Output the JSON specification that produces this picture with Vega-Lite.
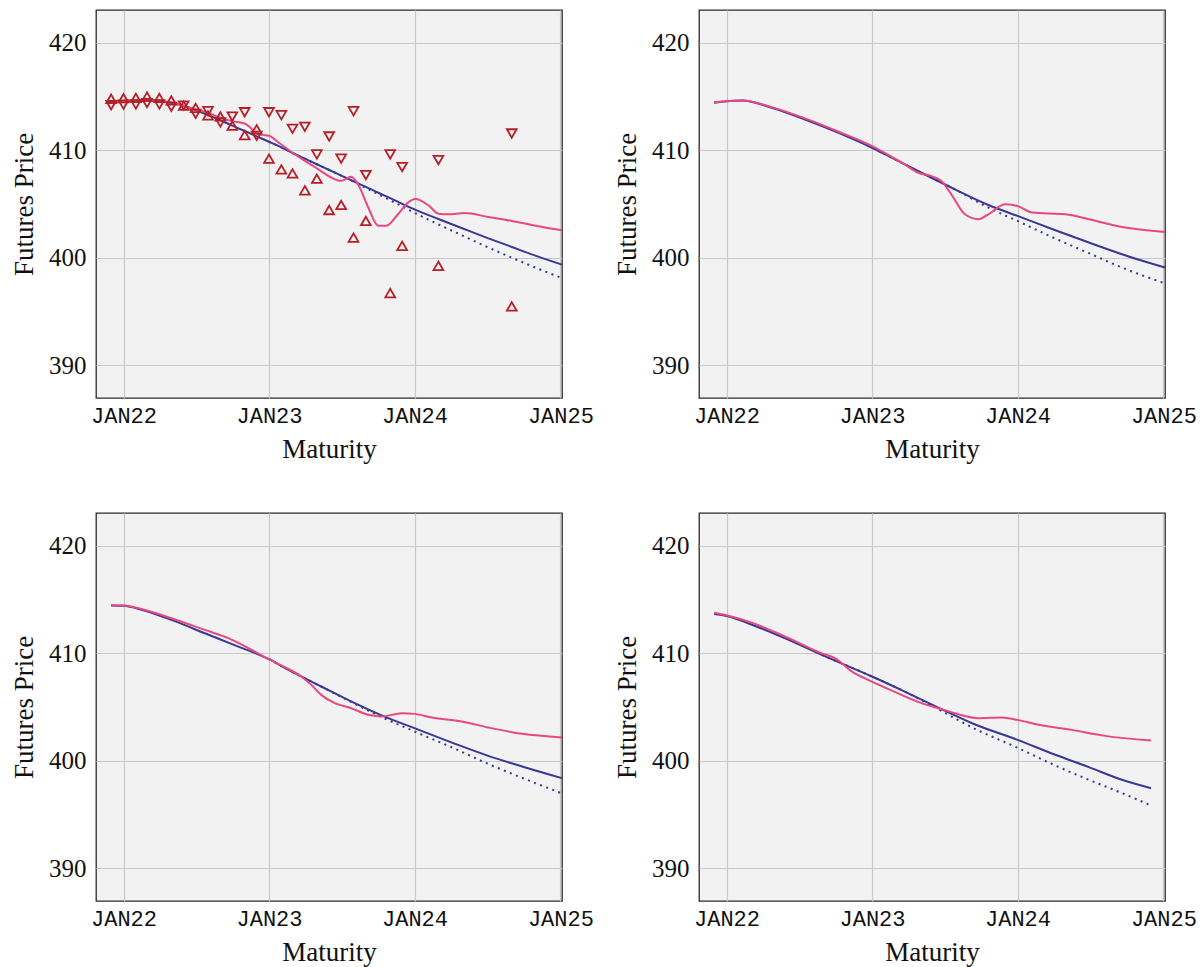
{
  "$schema": "https://vega.github.io/schema/vega-lite/v6.json",
  "padding": {"left": 9, "top": 9, "right": 3, "bottom": 3},
  "background": "white",
  "datasets": {"t": [
    {"p":1,"s":"n","d":"2021-12-01","v":414.5},{"p":1,"s":"n","d":"2022-01-01","v":414.57},{"p":1,"s":"n","d":"2022-02-01","v":414.62},{"p":1,"s":"n","d":"2022-03-01","v":414.64},{"p":1,"s":"n","d":"2022-04-01","v":414.58},{"p":1,"s":"n","d":"2022-05-01","v":414.42},{"p":1,"s":"n","d":"2022-06-01","v":414.15},{"p":1,"s":"n","d":"2022-07-01","v":413.75},{"p":1,"s":"n","d":"2022-08-01","v":413.28},{"p":1,"s":"n","d":"2022-09-01","v":412.8},{"p":1,"s":"n","d":"2022-10-01","v":412.3},{"p":1,"s":"n","d":"2022-11-01","v":411.8},{"p":1,"s":"n","d":"2022-12-01","v":411.3},{"p":1,"s":"n","d":"2023-01-01","v":410.8},{"p":1,"s":"n","d":"2023-02-01","v":410.28},{"p":1,"s":"n","d":"2023-03-01","v":409.75},{"p":1,"s":"n","d":"2023-04-01","v":409.22},{"p":1,"s":"n","d":"2023-05-01","v":408.7},{"p":1,"s":"n","d":"2023-06-01","v":408.17},{"p":1,"s":"n","d":"2023-07-01","v":407.65},{"p":1,"s":"n","d":"2023-08-01","v":407.12},{"p":1,"s":"n","d":"2023-09-01","v":406.6},{"p":1,"s":"n","d":"2023-10-01","v":406.07},{"p":1,"s":"n","d":"2023-11-01","v":405.55},{"p":1,"s":"n","d":"2023-12-01","v":405.02},{"p":1,"s":"n","d":"2024-01-01","v":404.5},{"p":1,"s":"n","d":"2024-03-01","v":403.6},{"p":1,"s":"n","d":"2024-05-01","v":402.72},{"p":1,"s":"n","d":"2024-07-01","v":401.85},{"p":1,"s":"n","d":"2024-09-01","v":401.0},{"p":1,"s":"n","d":"2024-11-01","v":400.17},{"p":1,"s":"n","d":"2025-01-05","v":399.35},
    {"p":1,"s":"o","d":"2023-01-01","v":410.8},{"p":1,"s":"o","d":"2023-02-01","v":410.28},{"p":1,"s":"o","d":"2023-03-01","v":409.75},{"p":1,"s":"o","d":"2023-04-01","v":409.22},{"p":1,"s":"o","d":"2023-05-01","v":408.7},{"p":1,"s":"o","d":"2023-06-01","v":408.17},{"p":1,"s":"o","d":"2023-07-01","v":407.65},{"p":1,"s":"o","d":"2023-08-01","v":407.08},{"p":1,"s":"o","d":"2023-09-01","v":406.5},{"p":1,"s":"o","d":"2023-10-01","v":405.93},{"p":1,"s":"o","d":"2023-11-01","v":405.35},{"p":1,"s":"o","d":"2023-12-01","v":404.78},{"p":1,"s":"o","d":"2024-01-01","v":404.18},{"p":1,"s":"o","d":"2024-03-01","v":403.1},{"p":1,"s":"o","d":"2024-05-01","v":402.05},{"p":1,"s":"o","d":"2024-07-01","v":401.0},{"p":1,"s":"o","d":"2024-09-01","v":400.0},{"p":1,"s":"o","d":"2024-11-01","v":399.05},{"p":1,"s":"o","d":"2025-01-05","v":398.1},
    {"p":1,"s":"k","d":"2021-12-01","v":414.55},{"p":1,"s":"k","d":"2022-01-01","v":414.6},{"p":1,"s":"k","d":"2022-03-01","v":414.68},{"p":1,"s":"k","d":"2022-05-01","v":414.48},{"p":1,"s":"k","d":"2022-07-01","v":413.8},{"p":1,"s":"k","d":"2022-08-01","v":413.5},{"p":1,"s":"k","d":"2022-09-01","v":413.03},{"p":1,"s":"k","d":"2022-10-01","v":412.72},{"p":1,"s":"k","d":"2022-11-01","v":412.5},{"p":1,"s":"k","d":"2022-11-15","v":412.12},{"p":1,"s":"k","d":"2022-12-01","v":411.56},{"p":1,"s":"k","d":"2022-12-14","v":411.44},{"p":1,"s":"k","d":"2023-01-01","v":411.35},{"p":1,"s":"k","d":"2023-01-25","v":410.73},{"p":1,"s":"k","d":"2023-02-28","v":409.8},{"p":1,"s":"k","d":"2023-04-01","v":409.02},{"p":1,"s":"k","d":"2023-05-04","v":408.25},{"p":1,"s":"k","d":"2023-06-06","v":407.47},{"p":1,"s":"k","d":"2023-07-01","v":407.16},{"p":1,"s":"k","d":"2023-07-26","v":407.53},{"p":1,"s":"k","d":"2023-08-12","v":406.86},{"p":1,"s":"k","d":"2023-09-07","v":404.68},{"p":1,"s":"k","d":"2023-10-02","v":402.98},{"p":1,"s":"k","d":"2023-10-22","v":402.98},{"p":1,"s":"k","d":"2023-11-21","v":404.07},{"p":1,"s":"k","d":"2023-12-16","v":405.14},{"p":1,"s":"k","d":"2024-01-03","v":405.46},{"p":1,"s":"k","d":"2024-02-06","v":404.84},{"p":1,"s":"k","d":"2024-03-01","v":404.1},{"p":1,"s":"k","d":"2024-03-25","v":404.04},{"p":1,"s":"k","d":"2024-05-06","v":404.16},{"p":1,"s":"k","d":"2024-07-04","v":403.79},{"p":1,"s":"k","d":"2024-09-01","v":403.42},{"p":1,"s":"k","d":"2024-11-03","v":402.96},{"p":1,"s":"k","d":"2025-01-05","v":402.55},
    {"p":1,"s":"a","d":"2021-12-01","v":414.2},{"p":1,"s":"b","d":"2021-12-01","v":414.8},
    {"p":1,"s":"a","d":"2022-01-01","v":414.25},{"p":1,"s":"b","d":"2022-01-01","v":414.85},
    {"p":1,"s":"a","d":"2022-02-01","v":414.28},{"p":1,"s":"b","d":"2022-02-01","v":414.88},
    {"p":1,"s":"a","d":"2022-03-01","v":414.4},{"p":1,"s":"b","d":"2022-03-01","v":415.0},
    {"p":1,"s":"a","d":"2022-04-01","v":414.28},{"p":1,"s":"b","d":"2022-04-01","v":414.88},
    {"p":1,"s":"a","d":"2022-05-01","v":414.05},{"p":1,"s":"b","d":"2022-05-01","v":414.65},
    {"p":1,"s":"a","d":"2022-06-01","v":414.17},{"p":1,"s":"b","d":"2022-06-01","v":414.17},
    {"p":1,"s":"a","d":"2022-07-01","v":413.4},{"p":1,"s":"b","d":"2022-07-01","v":413.95},
    {"p":1,"s":"a","d":"2022-08-01","v":413.65},{"p":1,"s":"b","d":"2022-08-01","v":413.25},
    {"p":1,"s":"a","d":"2022-09-01","v":412.6},{"p":1,"s":"b","d":"2022-09-01","v":413.15},
    {"p":1,"s":"a","d":"2022-10-01","v":413.15},{"p":1,"s":"b","d":"2022-10-01","v":412.3},
    {"p":1,"s":"a","d":"2022-11-01","v":413.55},{"p":1,"s":"b","d":"2022-11-01","v":411.42},
    {"p":1,"s":"a","d":"2022-12-01","v":411.35},{"p":1,"s":"b","d":"2022-12-01","v":411.95},
    {"p":1,"s":"a","d":"2023-01-01","v":413.55},{"p":1,"s":"b","d":"2023-01-01","v":409.22},
    {"p":1,"s":"a","d":"2023-02-01","v":413.28},{"p":1,"s":"b","d":"2023-02-01","v":408.22},
    {"p":1,"s":"a","d":"2023-03-01","v":412.0},{"p":1,"s":"b","d":"2023-03-01","v":407.85},
    {"p":1,"s":"a","d":"2023-04-01","v":412.19},{"p":1,"s":"b","d":"2023-04-01","v":406.27},
    {"p":1,"s":"a","d":"2023-05-01","v":409.62},{"p":1,"s":"b","d":"2023-05-01","v":407.36},
    {"p":1,"s":"a","d":"2023-06-01","v":411.29},{"p":1,"s":"b","d":"2023-06-01","v":404.44},
    {"p":1,"s":"a","d":"2023-07-01","v":409.22},{"p":1,"s":"b","d":"2023-07-01","v":404.91},
    {"p":1,"s":"a","d":"2023-08-01","v":413.65},{"p":1,"s":"b","d":"2023-08-01","v":401.87},
    {"p":1,"s":"a","d":"2023-09-01","v":407.7},{"p":1,"s":"b","d":"2023-09-01","v":403.42},
    {"p":1,"s":"a","d":"2023-11-01","v":409.62},{"p":1,"s":"b","d":"2023-11-01","v":396.7},
    {"p":1,"s":"a","d":"2023-12-01","v":408.44},{"p":1,"s":"b","d":"2023-12-01","v":401.1},
    {"p":1,"s":"a","d":"2024-03-01","v":409.09},{"p":1,"s":"b","d":"2024-03-01","v":399.24},
    {"p":1,"s":"a","d":"2024-09-01","v":411.57},{"p":1,"s":"b","d":"2024-09-01","v":395.46},
    {"p":2,"s":"n","d":"2021-12-01","v":414.42},{"p":2,"s":"n","d":"2022-01-01","v":414.58},{"p":2,"s":"n","d":"2022-02-10","v":414.64},{"p":2,"s":"n","d":"2022-04-24","v":413.96},{"p":2,"s":"n","d":"2022-07-17","v":412.87},{"p":2,"s":"n","d":"2022-10-09","v":411.63},{"p":2,"s":"n","d":"2023-01-01","v":410.24},{"p":2,"s":"n","d":"2023-02-12","v":409.46},{"p":2,"s":"n","d":"2023-05-05","v":407.91},{"p":2,"s":"n","d":"2023-07-28","v":406.37},{"p":2,"s":"n","d":"2023-10-20","v":404.91},{"p":2,"s":"n","d":"2024-01-01","v":403.89},{"p":2,"s":"n","d":"2024-04-05","v":402.55},{"p":2,"s":"n","d":"2024-06-28","v":401.41},{"p":2,"s":"n","d":"2024-09-19","v":400.32},{"p":2,"s":"n","d":"2025-01-05","v":399.08},
    {"p":2,"s":"o","d":"2023-01-01","v":410.24},{"p":2,"s":"o","d":"2023-02-12","v":409.46},{"p":2,"s":"o","d":"2023-05-05","v":407.91},{"p":2,"s":"o","d":"2023-07-28","v":406.37},{"p":2,"s":"o","d":"2023-10-20","v":404.66},{"p":2,"s":"o","d":"2024-01-01","v":403.42},{"p":2,"s":"o","d":"2024-04-05","v":401.78},{"p":2,"s":"o","d":"2024-06-28","v":400.42},{"p":2,"s":"o","d":"2024-09-19","v":399.08},{"p":2,"s":"o","d":"2025-01-05","v":397.6},
    {"p":2,"s":"k","d":"2021-12-01","v":414.48},{"p":2,"s":"k","d":"2022-01-01","v":414.58},{"p":2,"s":"k","d":"2022-02-10","v":414.64},{"p":2,"s":"k","d":"2022-04-24","v":414.02},{"p":2,"s":"k","d":"2022-07-17","v":412.97},{"p":2,"s":"k","d":"2022-10-09","v":411.73},{"p":2,"s":"k","d":"2023-01-01","v":410.4},{"p":2,"s":"k","d":"2023-02-12","v":409.56},{"p":2,"s":"k","d":"2023-03-24","v":408.69},{"p":2,"s":"k","d":"2023-04-27","v":407.91},{"p":2,"s":"k","d":"2023-05-30","v":407.6},{"p":2,"s":"k","d":"2023-06-24","v":407.14},{"p":2,"s":"k","d":"2023-07-19","v":405.9},{"p":2,"s":"k","d":"2023-08-22","v":404.04},{"p":2,"s":"k","d":"2023-09-25","v":403.58},{"p":2,"s":"k","d":"2023-10-20","v":404.04},{"p":2,"s":"k","d":"2023-12-01","v":404.97},{"p":2,"s":"k","d":"2024-01-01","v":404.82},{"p":2,"s":"k","d":"2024-02-07","v":404.2},{"p":2,"s":"k","d":"2024-04-30","v":404.04},{"p":2,"s":"k","d":"2024-06-28","v":403.58},{"p":2,"s":"k","d":"2024-09-19","v":402.86},{"p":2,"s":"k","d":"2025-01-05","v":402.4},
    {"p":3,"s":"n","d":"2021-12-01","v":414.45},{"p":3,"s":"n","d":"2022-01-01","v":414.42},{"p":3,"s":"n","d":"2022-02-17","v":414.04},{"p":3,"s":"n","d":"2022-05-01","v":413.11},{"p":3,"s":"n","d":"2022-07-24","v":411.87},{"p":3,"s":"n","d":"2022-10-16","v":410.63},{"p":3,"s":"n","d":"2023-01-01","v":409.45},{"p":3,"s":"n","d":"2023-02-19","v":408.46},{"p":3,"s":"n","d":"2023-05-12","v":406.91},{"p":3,"s":"n","d":"2023-08-04","v":405.36},{"p":3,"s":"n","d":"2023-10-27","v":403.96},{"p":3,"s":"n","d":"2024-01-01","v":403.03},{"p":3,"s":"n","d":"2024-04-12","v":401.57},{"p":3,"s":"n","d":"2024-07-04","v":400.45},{"p":3,"s":"n","d":"2024-09-27","v":399.46},{"p":3,"s":"n","d":"2025-01-05","v":398.37},
    {"p":3,"s":"o","d":"2023-01-01","v":409.45},{"p":3,"s":"o","d":"2023-02-19","v":408.46},{"p":3,"s":"o","d":"2023-05-12","v":406.91},{"p":3,"s":"o","d":"2023-08-04","v":405.3},{"p":3,"s":"o","d":"2023-10-27","v":403.78},{"p":3,"s":"o","d":"2024-01-01","v":402.72},{"p":3,"s":"o","d":"2024-04-12","v":401.1},{"p":3,"s":"o","d":"2024-07-04","v":399.7},{"p":3,"s":"o","d":"2024-09-27","v":398.4},{"p":3,"s":"o","d":"2025-01-05","v":396.95},
    {"p":3,"s":"k","d":"2021-12-01","v":414.48},{"p":3,"s":"k","d":"2022-01-01","v":414.45},{"p":3,"s":"k","d":"2022-02-17","v":414.1},{"p":3,"s":"k","d":"2022-05-01","v":413.27},{"p":3,"s":"k","d":"2022-07-24","v":412.18},{"p":3,"s":"k","d":"2022-09-21","v":411.41},{"p":3,"s":"k","d":"2022-11-11","v":410.47},{"p":3,"s":"k","d":"2023-01-01","v":409.45},{"p":3,"s":"k","d":"2023-02-03","v":408.83},{"p":3,"s":"k","d":"2023-03-23","v":407.84},{"p":3,"s":"k","d":"2023-04-17","v":407.06},{"p":3,"s":"k","d":"2023-05-12","v":406.13},{"p":3,"s":"k","d":"2023-06-15","v":405.36},{"p":3,"s":"k","d":"2023-07-26","v":404.89},{"p":3,"s":"k","d":"2023-09-07","v":404.27},{"p":3,"s":"k","d":"2023-10-10","v":404.11},{"p":3,"s":"k","d":"2023-11-30","v":404.42},{"p":3,"s":"k","d":"2024-01-01","v":404.36},{"p":3,"s":"k","d":"2024-02-14","v":404.02},{"p":3,"s":"k","d":"2024-04-28","v":403.65},{"p":3,"s":"k","d":"2024-07-04","v":403.09},{"p":3,"s":"k","d":"2024-09-27","v":402.5},{"p":3,"s":"k","d":"2025-01-05","v":402.16},
    {"p":4,"s":"n","d":"2021-12-01","v":413.67},{"p":4,"s":"n","d":"2022-01-01","v":413.48},{"p":4,"s":"n","d":"2022-03-14","v":412.55},{"p":4,"s":"n","d":"2022-06-06","v":411.25},{"p":4,"s":"n","d":"2022-08-28","v":409.85},{"p":4,"s":"n","d":"2023-01-01","v":407.84},{"p":4,"s":"n","d":"2023-03-24","v":406.44},{"p":4,"s":"n","d":"2023-06-16","v":404.95},{"p":4,"s":"n","d":"2023-09-09","v":403.49},{"p":4,"s":"n","d":"2024-01-01","v":401.94},{"p":4,"s":"n","d":"2024-04-05","v":400.55},{"p":4,"s":"n","d":"2024-06-28","v":399.4},{"p":4,"s":"n","d":"2024-09-19","v":398.22},{"p":4,"s":"n","d":"2024-12-01","v":397.44},
    {"p":4,"s":"o","d":"2022-08-28","v":409.85},{"p":4,"s":"o","d":"2023-01-01","v":407.84},{"p":4,"s":"o","d":"2023-03-24","v":406.44},{"p":4,"s":"o","d":"2023-06-16","v":404.8},{"p":4,"s":"o","d":"2023-09-09","v":403.1},{"p":4,"s":"o","d":"2024-01-01","v":401.2},{"p":4,"s":"o","d":"2024-04-05","v":399.55},{"p":4,"s":"o","d":"2024-06-28","v":398.22},{"p":4,"s":"o","d":"2024-09-19","v":396.98},{"p":4,"s":"o","d":"2024-12-01","v":395.83},
    {"p":4,"s":"k","d":"2021-12-01","v":413.79},{"p":4,"s":"k","d":"2022-01-01","v":413.55},{"p":4,"s":"k","d":"2022-03-14","v":412.74},{"p":4,"s":"k","d":"2022-06-06","v":411.41},{"p":4,"s":"k","d":"2022-08-28","v":410.0},{"p":4,"s":"k","d":"2022-10-01","v":409.54},{"p":4,"s":"k","d":"2022-11-12","v":408.3},{"p":4,"s":"k","d":"2023-01-01","v":407.37},{"p":4,"s":"k","d":"2023-02-12","v":406.66},{"p":4,"s":"k","d":"2023-05-05","v":405.36},{"p":4,"s":"k","d":"2023-06-16","v":404.89},{"p":4,"s":"k","d":"2023-07-28","v":404.42},{"p":4,"s":"k","d":"2023-09-25","v":403.96},{"p":4,"s":"k","d":"2023-11-22","v":404.02},{"p":4,"s":"k","d":"2024-01-01","v":403.8},{"p":4,"s":"k","d":"2024-02-24","v":403.34},{"p":4,"s":"k","d":"2024-05-16","v":402.87},{"p":4,"s":"k","d":"2024-08-08","v":402.31},{"p":4,"s":"k","d":"2024-12-01","v":401.88}
  ]},
  "columns": 2,
  "spacing": {"row": 115, "column": 137},
  "bounds": "flush",
  "concat": [
    {
      "data": {"name": "t"}, "transform": [{"filter": "datum.p === 1"}],
      "width": 466, "height": 388,
      "encoding": {
        "x": {"field": "d", "type": "temporal", "scale": {"type": "utc", "domain": [{"year": 2021, "month": 10, "date": 24, "utc": true}, {"year": 2025, "month": 1, "date": 5, "utc": true}]},
          "axis": {"title": "Maturity", "values": [{"year": 2022, "month": 1, "date": 1, "utc": true}, {"year": 2023, "month": 1, "date": 1, "utc": true}, {"year": 2024, "month": 1, "date": 1, "utc": true}, {"year": 2025, "month": 1, "date": 1, "utc": true}], "labelExpr": "upper(utcFormat(datum.value, '%b%y'))", "labelFont": "Liberation Mono", "labelFontSize": 22, "labelPadding": 7, "labelFlush": false, "labelOverlap": false}},
        "y": {"field": "v", "type": "quantitative", "scale": {"domain": [386.93, 423.07], "nice": false, "zero": false},
          "axis": {"title": "Futures Price", "values": [390, 400, 410, 420], "labelFont": "Liberation Serif", "labelFontSize": 25, "labelPadding": 10}}
      },
      "layer": [
        {"transform": [{"filter": "datum.s === 'o'"}], "mark": {"type": "line", "interpolate": "monotone", "color": "#3b3794", "strokeWidth": 2, "strokeDash": [2, 4.5]}},
        {"transform": [{"filter": "datum.s === 'n'"}], "mark": {"type": "line", "interpolate": "monotone", "color": "#3b3794", "strokeWidth": 2}},
        {"transform": [{"filter": "datum.s === 'k'"}], "mark": {"type": "line", "interpolate": "monotone", "color": "#e9487f", "strokeWidth": 2}},
        {"transform": [{"filter": "datum.s === 'a'"}], "mark": {"type": "point", "shape": "triangle-down", "filled": false, "stroke": "#b51f27", "strokeWidth": 1.8, "size": 95, "opacity": 1}},
        {"transform": [{"filter": "datum.s === 'b'"}], "mark": {"type": "point", "shape": "triangle-up", "filled": false, "stroke": "#b51f27", "strokeWidth": 1.8, "size": 95, "opacity": 1}}
      ]
    },
    {
      "data": {"name": "t"}, "transform": [{"filter": "datum.p === 2"}],
      "width": 466, "height": 388,
      "encoding": {
        "x": {"field": "d", "type": "temporal", "scale": {"type": "utc", "domain": [{"year": 2021, "month": 10, "date": 24, "utc": true}, {"year": 2025, "month": 1, "date": 5, "utc": true}]},
          "axis": {"title": "Maturity", "values": [{"year": 2022, "month": 1, "date": 1, "utc": true}, {"year": 2023, "month": 1, "date": 1, "utc": true}, {"year": 2024, "month": 1, "date": 1, "utc": true}, {"year": 2025, "month": 1, "date": 1, "utc": true}], "labelExpr": "upper(utcFormat(datum.value, '%b%y'))", "labelFont": "Liberation Mono", "labelFontSize": 22, "labelPadding": 7, "labelFlush": false, "labelOverlap": false}},
        "y": {"field": "v", "type": "quantitative", "scale": {"domain": [386.93, 423.07], "nice": false, "zero": false},
          "axis": {"title": "Futures Price", "values": [390, 400, 410, 420], "labelFont": "Liberation Serif", "labelFontSize": 25, "labelPadding": 10}}
      },
      "layer": [
        {"transform": [{"filter": "datum.s === 'o'"}], "mark": {"type": "line", "interpolate": "monotone", "color": "#3b3794", "strokeWidth": 2, "strokeDash": [2, 4.5]}},
        {"transform": [{"filter": "datum.s === 'n'"}], "mark": {"type": "line", "interpolate": "monotone", "color": "#3b3794", "strokeWidth": 2}},
        {"transform": [{"filter": "datum.s === 'k'"}], "mark": {"type": "line", "interpolate": "monotone", "color": "#e9487f", "strokeWidth": 2}}
      ]
    },
    {
      "data": {"name": "t"}, "transform": [{"filter": "datum.p === 3"}],
      "width": 466, "height": 388,
      "encoding": {
        "x": {"field": "d", "type": "temporal", "scale": {"type": "utc", "domain": [{"year": 2021, "month": 10, "date": 24, "utc": true}, {"year": 2025, "month": 1, "date": 5, "utc": true}]},
          "axis": {"title": "Maturity", "values": [{"year": 2022, "month": 1, "date": 1, "utc": true}, {"year": 2023, "month": 1, "date": 1, "utc": true}, {"year": 2024, "month": 1, "date": 1, "utc": true}, {"year": 2025, "month": 1, "date": 1, "utc": true}], "labelExpr": "upper(utcFormat(datum.value, '%b%y'))", "labelFont": "Liberation Mono", "labelFontSize": 22, "labelPadding": 7, "labelFlush": false, "labelOverlap": false}},
        "y": {"field": "v", "type": "quantitative", "scale": {"domain": [386.93, 423.07], "nice": false, "zero": false},
          "axis": {"title": "Futures Price", "values": [390, 400, 410, 420], "labelFont": "Liberation Serif", "labelFontSize": 25, "labelPadding": 10}}
      },
      "layer": [
        {"transform": [{"filter": "datum.s === 'o'"}], "mark": {"type": "line", "interpolate": "monotone", "color": "#3b3794", "strokeWidth": 2, "strokeDash": [2, 4.5]}},
        {"transform": [{"filter": "datum.s === 'n'"}], "mark": {"type": "line", "interpolate": "monotone", "color": "#3b3794", "strokeWidth": 2}},
        {"transform": [{"filter": "datum.s === 'k'"}], "mark": {"type": "line", "interpolate": "monotone", "color": "#e9487f", "strokeWidth": 2}}
      ]
    },
    {
      "data": {"name": "t"}, "transform": [{"filter": "datum.p === 4"}],
      "width": 466, "height": 388,
      "encoding": {
        "x": {"field": "d", "type": "temporal", "scale": {"type": "utc", "domain": [{"year": 2021, "month": 10, "date": 24, "utc": true}, {"year": 2025, "month": 1, "date": 5, "utc": true}]},
          "axis": {"title": "Maturity", "values": [{"year": 2022, "month": 1, "date": 1, "utc": true}, {"year": 2023, "month": 1, "date": 1, "utc": true}, {"year": 2024, "month": 1, "date": 1, "utc": true}, {"year": 2025, "month": 1, "date": 1, "utc": true}], "labelExpr": "upper(utcFormat(datum.value, '%b%y'))", "labelFont": "Liberation Mono", "labelFontSize": 22, "labelPadding": 7, "labelFlush": false, "labelOverlap": false}},
        "y": {"field": "v", "type": "quantitative", "scale": {"domain": [386.93, 423.07], "nice": false, "zero": false},
          "axis": {"title": "Futures Price", "values": [390, 400, 410, 420], "labelFont": "Liberation Serif", "labelFontSize": 25, "labelPadding": 10}}
      },
      "layer": [
        {"transform": [{"filter": "datum.s === 'o'"}], "mark": {"type": "line", "interpolate": "monotone", "color": "#3b3794", "strokeWidth": 2, "strokeDash": [2, 4.5]}},
        {"transform": [{"filter": "datum.s === 'n'"}], "mark": {"type": "line", "interpolate": "monotone", "color": "#3b3794", "strokeWidth": 2}},
        {"transform": [{"filter": "datum.s === 'k'"}], "mark": {"type": "line", "interpolate": "monotone", "color": "#e9487f", "strokeWidth": 2}}
      ]
    }
  ],
  "config": {
    "font": "Liberation Serif",
    "view": {"fill": "#f2f2f2", "stroke": "#2a2a2a", "strokeWidth": 1.3},
    "axis": {
      "grid": true, "gridColor": "#c9c9c9", "gridWidth": 1.2,
      "domain": false, "ticks": false,
      "labelColor": "#111111", "titleColor": "#111111",
      "titleFont": "Liberation Serif", "titleFontSize": 27, "titleFontWeight": "normal",
      "titlePadding": 10
    }
  }
}
